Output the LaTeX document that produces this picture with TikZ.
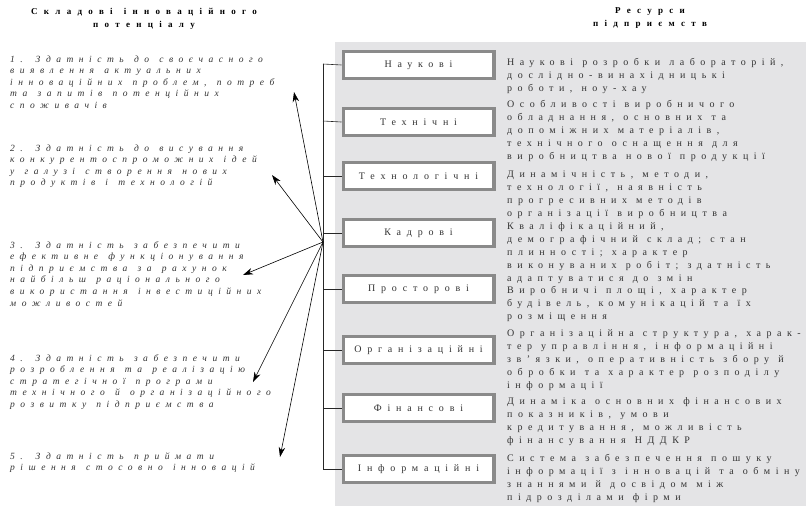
\documentclass[tikz,border=0pt]{standalone}
\usepackage{fontspec}
\setmainfont{Liberation Serif}
\newfontfamily\descfont[LetterSpace=55,WordSpace=1.15]{Liberation Serif}
\newfontfamily\abilfont[LetterSpace=58,WordSpace=1.3]{Liberation Serif}
\newfontfamily\boxfont[LetterSpace=58,WordSpace=1.3]{Liberation Serif}
\newfontfamily\hdrfont[LetterSpace=70,WordSpace=1.3]{Liberation Serif}
\usetikzlibrary{arrows.meta}
\definecolor{panel}{HTML}{E4E4E6}
\definecolor{boxedge}{HTML}{8A8A8A}
\definecolor{ink}{HTML}{333333}
\tikzset{
  res/.style={draw=boxedge, line width=3.3pt, fill=white, minimum width=150.7pt,
    minimum height=26.7pt, inner sep=0pt, text=ink,
    font=\boxfont\fontsize{10}{12}\selectfont},
  desc/.style={anchor=base west, inner sep=0pt, align=left, text=ink,
    font=\descfont\fontsize{10}{13}\selectfont},
  abil/.style={anchor=base west, inner sep=0pt, align=left, text=ink,
    font=\abilfont\itshape\fontsize{9.5}{11.6}\selectfont},
  hdr/.style={inner sep=0pt, align=center, text=black,
    font=\hdrfont\bfseries\fontsize{9}{12.5}\selectfont},
  tick/.style={line width=0.6pt, draw=black!85},
  arr/.style={-{Stealth[length=10pt,width=6.5pt]}, line width=0.6pt}
}
\begin{document}
\begin{tikzpicture}[x=1pt,y=-1pt]
\useasboundingbox (0,0) rectangle (810,509);
\fill[panel] (335,42) rectangle (806,506);

% headers
\node[hdr] (h1) at (144,19) {Складові інноваційного\\потенціалу};
\node[hdr] (h2) at (650,18) {Ресурси\\підприємств};

% resource boxes
\node[res] (b1) at (418.5,65) {Наукові};
\node[res] (b2) at (418.5,122) {Технічні};
\node[res] (b3) at (418.5,176) {Технологічні};
\node[res] (b4) at (418.5,233) {Кадрові};
\node[res] (b5) at (418.5,289) {Просторові};
\node[res] (b6) at (418.5,350) {Організаційні};
\node[res] (b7) at (418.5,408) {Фінансові};
\node[res] (b8) at (418.5,469) {Інформаційні};

% descriptions (anchored at the baseline of their last line)
\node[desc] (d1) at (507,91) {Наукові розробки лабораторій,\\дослідно-винахідницькі\\роботи, ноу-хау};
\node[desc] (d2) at (507,159.5) {Особливості виробничого\\обладнання, основних та\\допоміжних матеріалів,\\технічного оснащення для\\виробництва нової продукції};
\node[desc] (d3) at (507,216.5) {Динамічність, методи,\\технології, наявність\\прогресивних методів\\організації виробництва};
\node[desc] (d4) at (507,281) {Кваліфікаційний,\\демографічний склад; стан\\плинності; характер\\виконуваних робіт; здатність\\адаптуватися до змін};
\node[desc] (d5) at (507,319) {Виробничі площі, характер\\будівель, комунікацій та їх\\розміщення};
\node[desc] (d6) at (507,388) {Організаційна структура, харак-\\тер управління, інформаційні\\зв’язки, оперативність збору й\\обробки та характер розподілу\\інформації};
\node[desc] (d7) at (507,443) {Динаміка основних фінансових\\показників, умови\\кредитування, можливість\\фінансування НДДКР};
\node[desc] (d8) at (507,500) {Система забезпечення пошуку\\інформації з інновацій та обміну\\знаннями й досвідом між\\підрозділами фірми};

% abilities (anchored at the baseline of their last line)
\node[abil] (a1) at (10,108.4) {1. Здатність до своєчасного\\виявлення актуальних\\інноваційних проблем, потреб\\та запитів потенційних\\споживачів};
\node[abil] (a2) at (10,185.8) {2. Здатність до висування\\конкурентоспроможних ідей\\у галузі створення нових\\продуктів і технологій};
\node[abil] (a3) at (10,306) {3. Здатність забезпечити\\ефективне функціонування\\підприємства за рахунок\\найбільш раціонального\\використання інвестиційних\\можливостей};
\node[abil] (a4) at (10,407.4) {4. Здатність забезпечити\\розроблення та реалізацію\\стратегічної програми\\технічного й організаційного\\розвитку підприємства};
\node[abil] (a5) at (10,470.6) {5. Здатність приймати\\рішення стосовно інновацій};

% bracket line and ticks
\foreach \i/\yy in {1/64,2/121,3/176,4/233,5/289,6/350,7/408,8/469}{
  \coordinate (v\i) at (323,\yy);
  \draw[tick] (v\i) -- (b\i.west);
}
\draw[tick] (v1) -- (v8);

% arrows from hub
\coordinate (hub) at (323,242);
\coordinate (t1) at (294,92);
\coordinate (t2) at (272,175);
\coordinate (t3) at (243,275);
\coordinate (t4) at (253,382);
\coordinate (t5) at (280,457);
\foreach \k in {1,...,5}{\draw[arr] (hub) -- (t\k);}
\end{tikzpicture}
\end{document}
